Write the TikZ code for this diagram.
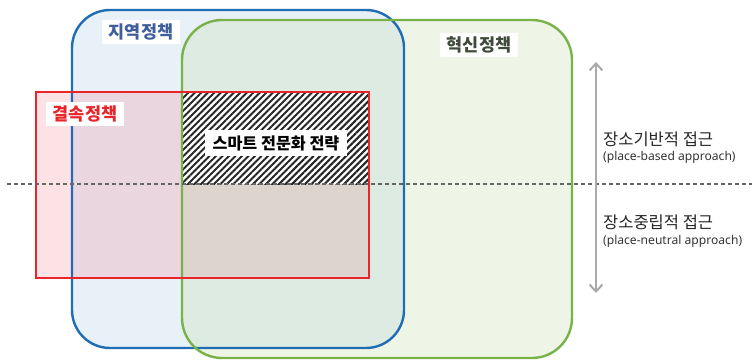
\documentclass[tikz,border=0pt]{standalone}
\usepackage{fontspec}
\setmainfont{Noto Sans CJK KR}
\newfontfamily\lat{Noto Sans}
\usetikzlibrary{patterns.meta,arrows.meta}
\definecolor{bStroke}{HTML}{1F6EB5}
\definecolor{gStroke}{HTML}{7AB24A}
\definecolor{rStroke}{HTML}{E9242A}
\definecolor{cB}{HTML}{E8F0F8}
\definecolor{cG}{HTML}{EEF5E6}
\definecolor{cBG}{HTML}{DEEBE2}
\definecolor{cR}{HTML}{FCE2E5}
\definecolor{cRB}{HTML}{EAD6DE}
\definecolor{cRBG}{HTML}{DDD4CE}
\definecolor{tBlue}{HTML}{3F5F9B}
\definecolor{tGreen}{HTML}{3E4A3A}
\definecolor{arrG}{HTML}{A9A9A9}
\tikzset{
  lbl/.style={fill=white, inner xsep=7pt, inner ysep=4pt, font=\fontsize{17.5}{19}\selectfont\bfseries},
  side/.style={anchor=west, inner sep=0pt, font=\fontsize{16.5}{18}\selectfont, text=black!85},
  sub/.style={anchor=west, inner sep=0pt, font=\lat\fontsize{12.1}{14}\selectfont, text=black!80},
}
\begin{document}
\begin{tikzpicture}[x=1pt,y=-1pt]
\useasboundingbox (0,0) rectangle (752,359);
% fills
\fill[cB, rounded corners=38pt] (72,10) rectangle (404,348);
\fill[cG, rounded corners=40pt] (182,20) rectangle (572,358);
\begin{scope}
  \clip[rounded corners=38pt] (72,10) rectangle (404,348);
  \fill[cBG, rounded corners=40pt] (182,20) rectangle (572,358);
\end{scope}
\fill[cR] (36,92) rectangle (369,278);
\begin{scope}
  \clip[rounded corners=38pt] (72,10) rectangle (404,348);
  \fill[cRB] (36,92) rectangle (369,278);
\end{scope}
\begin{scope}
  \clip[rounded corners=40pt] (182,20) rectangle (572,358);
  \fill[cRBG] (36,92) rectangle (369,278);
\end{scope}
% hatched region
\fill[white] (183,93) rectangle (368,184);
\fill[pattern={Lines[angle=45,distance=4.6pt,line width=2pt]}, pattern color=black!85] (183,93) rectangle (368,184);
% outlines
\draw[bStroke, line width=2.4pt, rounded corners=38pt] (72,10) rectangle (404,348);
\draw[gStroke, line width=2.4pt, rounded corners=40pt] (182,20) rectangle (572,358);
\draw[rStroke, line width=2.6pt] (36,92) rectangle (369,278);
% dashed divider
\coordinate (dl) at (7,184);
\coordinate (dr) at (752,184);
\draw[black!60, line width=1.1pt, dash pattern=on 4pt off 3pt] (dl) -- (dr);
% labels
\node[lbl, text=tBlue] (jiyeok) at (141,32) {지역정책};
\node[lbl, text=tGreen] (hyeoksin) at (479,45) {혁신정책};
\node[lbl, text=rStroke] (gyeolsok) at (85,114) {결속정책};
\node[lbl, font=\fontsize{16.2}{18}\selectfont\bfseries, text=black, inner xsep=8pt, inner ysep=5pt] (smart) at (276,143) {스마트 전문화 전략};
% vertical arrow
\coordinate (atop) at (596,62);
\coordinate (abot) at (596,293);
\draw[arrG, line width=2pt, {Straight Barb[length=7pt,width=13pt,line width=2pt]}-{Straight Barb[length=7pt,width=13pt,line width=2pt]}] (atop) -- (abot);
% side texts
\node[side] (pb) at (603,139) {장소기반적 접근};
\node[sub] (pbe) at (603,157) {(place-based approach)};
\node[side] (pn) at (603,222) {장소중립적 접근};
\node[sub] (pne) at (603,241) {(place-neutral approach)};
\end{tikzpicture}
\end{document}
